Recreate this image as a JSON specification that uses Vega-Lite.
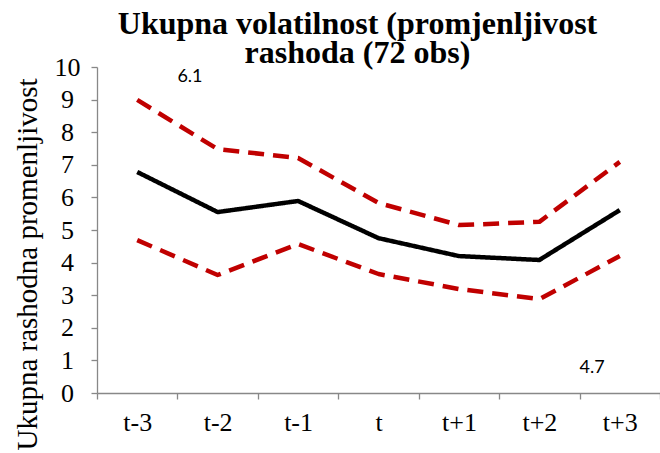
{
  "$schema": "https://vega.github.io/schema/vega-lite/v6.json",
  "width": 563,
  "height": 326,
  "autosize": {"type": "none"},
  "padding": {"left": 97, "top": 67, "right": 0, "bottom": 60},
  "background": "white",
  "config": {"view": {"stroke": null}, "font": "Liberation Serif"},
  "title": {
    "text": ["Ukupna volatilnost (promjenljivost", "rashoda (72 obs)"],
    "font": "Liberation Serif",
    "fontSize": 32,
    "fontWeight": "bold",
    "color": "black",
    "anchor": "middle",
    "dx": -21,
    "dy": 16,
    "offset": 0,
    "lineHeight": 29
  },
  "datasets": {
    "lines": [
      {"t": "t-3", "series": "mean", "value": 6.78},
      {"t": "t-2", "series": "mean", "value": 5.55},
      {"t": "t-1", "series": "mean", "value": 5.89},
      {"t": "t", "series": "mean", "value": 4.75},
      {"t": "t+1", "series": "mean", "value": 4.2},
      {"t": "t+2", "series": "mean", "value": 4.08},
      {"t": "t+3", "series": "mean", "value": 5.61},
      {"t": "t-3", "series": "upper", "value": 8.99},
      {"t": "t-2", "series": "upper", "value": 7.48},
      {"t": "t-1", "series": "upper", "value": 7.21},
      {"t": "t", "series": "upper", "value": 5.83},
      {"t": "t+1", "series": "upper", "value": 5.15},
      {"t": "t+2", "series": "upper", "value": 5.25},
      {"t": "t+3", "series": "upper", "value": 7.09},
      {"t": "t-3", "series": "lower", "value": 4.69},
      {"t": "t-2", "series": "lower", "value": 3.62},
      {"t": "t-1", "series": "lower", "value": 4.57},
      {"t": "t", "series": "lower", "value": 3.65},
      {"t": "t+1", "series": "lower", "value": 3.19},
      {"t": "t+2", "series": "lower", "value": 2.88},
      {"t": "t+3", "series": "lower", "value": 4.2}
    ],
    "notes": [
      {"t": "t-3", "value": 9.69, "label": "6.1"},
      {"t": "t+2", "value": 0.77, "label": "4.7"}
    ]
  },
  "encoding": {
    "x": {
      "field": "t", "type": "nominal",
      "sort": ["t-3", "t-2", "t-1", "t", "t+1", "t+2", "t+3"],
      "scale": {"paddingInner": 0, "paddingOuter": 0},
      "axis": {
        "title": null, "labelAngle": 0, "tickBand": "extent",
        "domainColor": "#888888", "tickColor": "#888888", "tickSize": 6, "domainWidth": 1.3, "tickWidth": 1.3,
        "labelFont": "Liberation Serif", "labelFontSize": 26, "labelColor": "black", "labelPadding": 10
      }
    },
    "y": {
      "field": "value", "type": "quantitative",
      "scale": {"domain": [0, 10], "nice": false},
      "axis": {
        "values": [0, 1, 2, 3, 4, 5, 6, 7, 8, 9, 10], "grid": false, "labelOverlap": false,
        "title": "Ukupna rashodna promenljivost", "titleFont": "Liberation Serif", "titleFontSize": 29, "titleFontWeight": "normal", "titleColor": "black",
        "titleY": 197, "titlePadding": 12,
        "domainColor": "#888888", "tickColor": "#888888", "tickSize": 6, "domainWidth": 1.3, "tickWidth": 1.3,
        "labelFont": "Liberation Serif", "labelFontSize": 26, "labelColor": "black", "labelAlign": "center", "labelPadding": 24
      }
    }
  },
  "layer": [
    {
      "data": {"name": "lines"},
      "mark": {"type": "line", "strokeWidth": 4.5, "strokeCap": "butt", "strokeJoin": "round"},
      "encoding": {
        "color": {
          "field": "series", "type": "nominal",
          "scale": {"domain": ["mean", "upper", "lower"], "range": ["#000000", "#C00000", "#C00000"]},
          "legend": null
        },
        "strokeDash": {
          "field": "series", "type": "nominal",
          "scale": {"domain": ["mean", "upper", "lower"], "range": [[1, 0], [16, 9], [16, 9]]},
          "legend": null
        }
      }
    },
    {
      "data": {"name": "notes"},
      "mark": {"type": "text", "font": "Lato", "fontSize": 18, "align": "left", "baseline": "middle", "color": "black"},
      "encoding": {
        "x": {
          "field": "t", "type": "nominal", "bandPosition": 1,
          "sort": ["t-3", "t-2", "t-1", "t", "t+1", "t+2", "t+3"],
          "axis": {
            "title": null, "labelAngle": 0, "tickBand": "extent",
            "domainColor": "#888888", "tickColor": "#888888", "tickSize": 6, "domainWidth": 1.3, "tickWidth": 1.3,
            "labelFont": "Liberation Serif", "labelFontSize": 26, "labelColor": "black", "labelPadding": 10
          }
        },
        "text": {"field": "label"}
      }
    }
  ]
}
